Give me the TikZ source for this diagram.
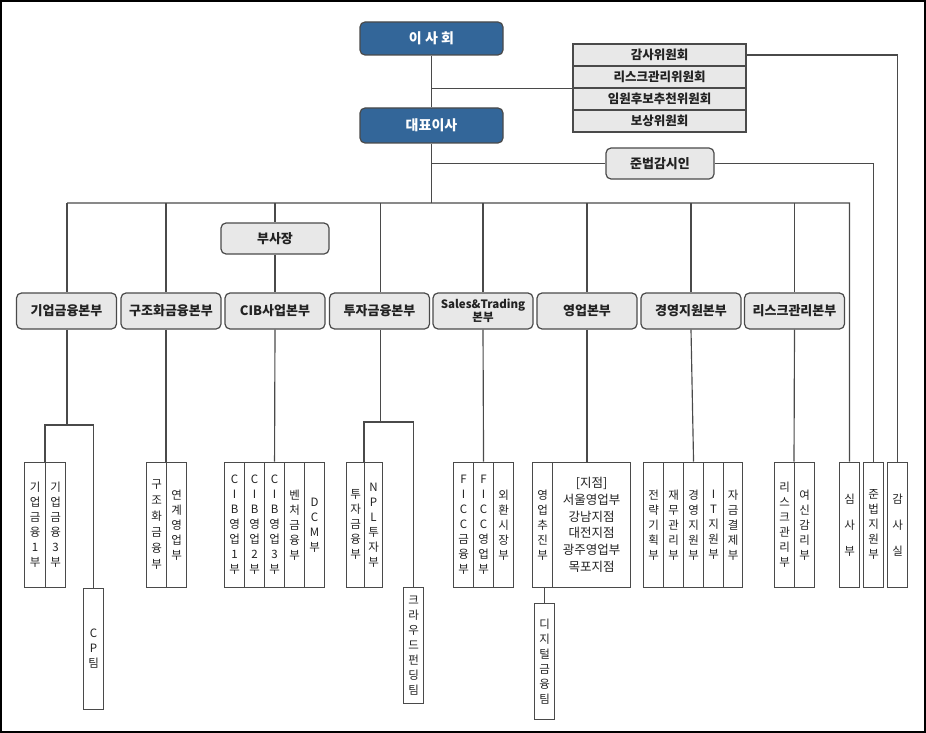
\documentclass[tikz,border=0pt]{standalone}
\usepackage{fontspec}
\setmainfont{Noto Sans CJK KR}
\definecolor{lineC}{HTML}{4A4A4A}
\definecolor{boxC}{HTML}{E8E8E8}
\definecolor{darkB}{HTML}{336699}
\definecolor{txtC}{HTML}{222222}
\tikzset{
  rbox/.style={draw=lineC, fill=boxC, line width=1.2pt, rounded corners=5pt, minimum width=100pt, minimum height=36pt, inner sep=0pt, align=center, text=txtC, font=\bfseries\fontsize{13}{13}\selectfont},
  dbox/.style={rbox, fill=darkB, draw=lineC, text=white, minimum width=143pt, font=\bfseries\fontsize{14}{14}\selectfont},
  cbox/.style={draw=lineC, fill=boxC, line width=1.1pt, minimum width=173pt, minimum height=22pt, inner sep=0pt, text=txtC, font=\bfseries\fontsize{12.5}{13}\selectfont},
  vbox/.style={draw=lineC, fill=white, line width=1.1pt, anchor=north west, minimum width=20pt, minimum height=125.5pt, inner sep=0pt, align=center, text=txtC, font=\fontsize{11.5}{15}\selectfont},
  conn/.style={draw=lineC, line width=1.15pt},
}
\begin{document}
\begin{tikzpicture}[x=1pt,y=-1pt]
\useasboundingbox (0,0) rectangle (926,733);
\draw[black, line width=1.6pt] (0.8,0.8) rectangle (925.2,732.2);

% top
\node[dbox, minimum height=33pt] (board) at (431.5,38.5) {이 사 회};
\node[dbox, minimum height=35pt] (ceo) at (431.5,125.5) {대표이사};
\node[cbox] (c1) at (659.5,55) {감사위원회};
\node[cbox] (c2) at (659.5,77) {리스크관리위원회};
\node[cbox] (c3) at (659.5,99) {임원후보추천위원회};
\node[cbox] (c4) at (659.5,121) {보상위원회};
\node[rbox, minimum width=108pt, minimum height=31pt] (comp) at (660,163.5) {준법감시인};
\node[rbox, minimum width=108pt, minimum height=31pt] (vp) at (275,238.5) {부사장};

% divisions
\node[rbox] (d1) at (66.5,311) {기업금융본부};
\node[rbox] (d2) at (171,311) {구조화금융본부};
\node[rbox] (d3) at (275,311) {CIB사업본부};
\node[rbox] (d4) at (379.5,311) {투자금융본부};
\node[rbox, font=\bfseries\fontsize{11.5}{11.5}\selectfont] (d5) at (483,311) {Sales\&Trading\\본부};
\node[rbox] (d6) at (587,311) {영업본부};
\node[rbox] (d7) at (691,311) {경영지원본부};
\node[rbox] (d8) at (794.5,311) {리스크관리본부};

% bottom boxes
\node[vbox, minimum width=21pt] (b11) at (24,461.5) {기\\업\\금\\융\\1\\부};
\node[vbox] (b12) at (45,461.5) {기\\업\\금\\융\\3\\부};
\node[vbox, minimum height=121pt] (cp) at (83,588) {C\\P\\팀};
\node[vbox, font=\fontsize{11.5}{16}\selectfont] (b21) at (146,461.5) {구\\조\\화\\금\\융\\부};
\node[vbox] (b22) at (166,461.5) {연\\계\\영\\업\\부};
\node[vbox] (b31) at (224,461.5) {C\\I\\B\\영\\업\\1\\부};
\node[vbox] (b32) at (244,461.5) {C\\I\\B\\영\\업\\2\\부};
\node[vbox] (b33) at (264,461.5) {C\\I\\B\\영\\업\\3\\부};
\node[vbox] (b34) at (284,461.5) {벤\\처\\금\\융\\부};
\node[vbox] (b35) at (304,461.5) {D\\C\\M\\부};
\node[vbox, minimum width=18pt] (b41) at (346,461.5) {투\\자\\금\\융\\부};
\node[vbox, minimum width=18pt] (b42) at (364,461.5) {N\\P\\L\\투\\자\\부};
\node[vbox, minimum height=116pt] (crowd) at (403,587) {크\\라\\우\\드\\펀\\딩\\팀};
\node[vbox] (b51) at (453,461.5) {F\\I\\C\\C\\금\\융\\부};
\node[vbox] (b52) at (473,461.5) {F\\I\\C\\C\\영\\업\\부};
\node[vbox] (b53) at (493,461.5) {외\\환\\시\\장\\부};
\node[vbox] (b61) at (532,461.5) {영\\업\\추\\진\\부};
\node[vbox, minimum width=78pt, font=\fontsize{12.5}{16.8}\selectfont] (b62) at (552,461.5) {[지점]\\서울영업부\\강남지점\\대전지점\\광주영업부\\목포지점};
\node[vbox, minimum height=116pt] (dig) at (534,603) {디\\지\\털\\금\\융\\팀};
\node[vbox] (b71) at (643,461.5) {전\\략\\기\\획\\부};
\node[vbox] (b72) at (663,461.5) {재\\무\\관\\리\\부};
\node[vbox] (b73) at (683,461.5) {경\\영\\지\\원\\부};
\node[vbox] (b74) at (703,461.5) {I\\T\\지\\원\\부};
\node[vbox, minimum width=19pt] (b75) at (723,461.5) {자\\금\\결\\제\\부};
\node[vbox] (b81) at (774,461.5) {리\\스\\크\\관\\리\\부};
\node[vbox] (b82) at (794,461.5) {여\\신\\감\\리\\부};
\node[vbox, font=\fontsize{11.5}{14}\selectfont] (rev) at (839,461.5) {심\\[12pt]사\\[12pt]부};
\node[vbox] (csup) at (863,461.5) {준\\법\\지\\원\\부};
\node[vbox, font=\fontsize{11.5}{14}\selectfont] (aud) at (887,461.5) {감\\[12pt]사\\[12pt]실};

% connectors top
\draw[conn] (board.south) -- (ceo.north);
\draw[conn] (board.south |- c2.south) -- (c2.south west);
\draw[conn] (c1.east) -| (aud.north);
\coordinate (bus) at (431.5,203);
\draw[conn] (ceo.south) -- (bus);
\draw[conn] (ceo.south |- comp.west) -- (comp.west);
\draw[conn] (comp.east) -| (csup.north);
\coordinate (busL) at (67,203);
\coordinate (busR) at (849.5,203);
\draw[conn] (busL) -- (busR) -- (rev.north);
\draw[conn] (busL) -- (busL |- d1.north);
\coordinate (j2) at (166,203);
\draw[conn] (j2) -- (j2 |- d2.north);
\draw[conn] (vp.north |- bus) -- (vp.north);
\draw[conn] (vp.south) -- (d3.north);
\coordinate (j4) at (380.5,203);
\draw[conn] (j4) -- (j4 |- d4.north);
\draw[conn] (d5.north |- bus) -- (d5.north);
\draw[conn] (d6.north |- bus) -- (d6.north);
\draw[conn] (d7.north |- bus) -- (d7.north);
\draw[conn] (d8.north |- bus) -- (d8.north);

% connectors bottom
\coordinate (k1) at (67,425);
\draw[conn] (busL |- d1.south) -- (k1);
\draw[conn] (b12.north west) |- (k1) -| (cp.north);
\draw[conn] (j2 |- d2.south) -- (b22.north west);
\draw[conn] (d3.south) -- (b33.north);
\coordinate (k4) at (380.5,422);
\draw[conn] (j4 |- d4.south) -- (k4);
\draw[conn] (b42.north west) |- (k4) -| (crowd.north);
\draw[conn] (d5.south) -- (b52.north);
\draw[conn] (d6.south) -- (d6.south |- b62.north);
\draw[conn] (d7.south) -- (b73.north);
\draw[conn] (d8.south) -- (b82.north west);
\draw[conn] (dig.north) -- (dig.north |- b61.south);
\end{tikzpicture}
\end{document}
